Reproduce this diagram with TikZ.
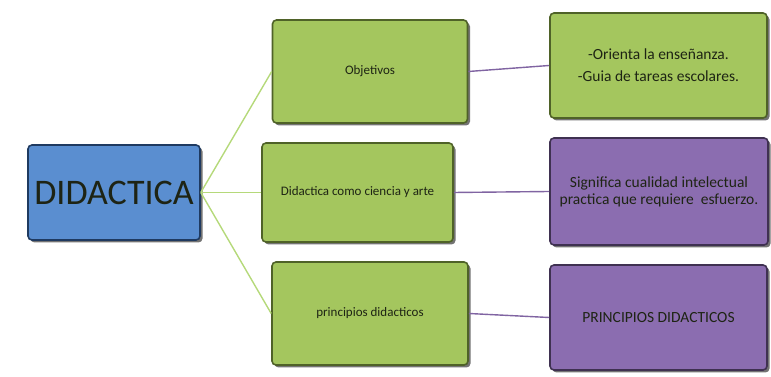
\documentclass[tikz,border=0pt]{standalone}
\usepackage{fontspec}
\setmainfont{Carlito}
\usetikzlibrary{shadows}
\definecolor{gfill}{HTML}{A4C65E}
\definecolor{gedge}{HTML}{4F6228}
\definecolor{pfill}{HTML}{8B6DB0}
\definecolor{pedge}{HTML}{3F3151}
\definecolor{bfill}{HTML}{5A8ED0}
\definecolor{bedge}{HTML}{1F3A60}
\definecolor{gline}{HTML}{B5D97A}
\definecolor{pline}{HTML}{8064A2}
\definecolor{txt}{HTML}{1E2414}
\tikzset{
  x=1pt,y=1pt,
  boxbase/.style={rectangle, rounded corners=4pt, line width=1.6pt, align=center, text=txt,
     drop shadow={shadow xshift=2.5pt, shadow yshift=-2.5pt, opacity=0.55, fill=black}},
  greenbox/.style={boxbase, fill=gfill, draw=gedge, font=\fontsize{13}{15}\selectfont},
  purplebox/.style={boxbase, fill=pfill, draw=pedge, font=\fontsize{15.5}{17}\selectfont},
  bluebox/.style={boxbase, fill=bfill, draw=bedge, font=\fontsize{36}{38}\selectfont},
  gconn/.style={draw=gline, line width=1.4pt},
  pconn/.style={draw=pline, line width=1.4pt},
}
\begin{document}
\begin{tikzpicture}
\useasboundingbox (0,0) rectangle (771,377);
\node[bluebox, minimum width=172, minimum height=95] (did) at (114,184.5) {DIDACTICA};
\node[greenbox, minimum width=195, minimum height=103] (obj) at (370,305.5) {Objetivos};
\node[greenbox, minimum width=191, minimum height=99] (cien) at (357.5,184.5) {Didactica como ciencia y arte};
\node[greenbox, minimum width=196, minimum height=103] (prin) at (370,63.5) {principios didacticos};
\node[greenbox, font=\fontsize{15.5}{22}\selectfont, minimum width=217, minimum height=105] (ori) at (658.5,311.5) {-Orienta la enseñanza.\\-Guia de tareas escolares.};
\node[purplebox, minimum width=218, minimum height=107] (sig) at (659,185.5) {Significa cualidad intelectual\\practica que requiere \ esfuerzo.};
\node[purplebox, minimum width=217, minimum height=105] (pd) at (658.5,59.5) {PRINCIPIOS DIDACTICOS};
\draw[gconn] (did.east) -- (obj.west);
\draw[gconn] (did.east) -- (cien.west);
\draw[gconn] (did.east) -- (prin.west);
\draw[pconn] (obj.east) -- (ori.west);
\draw[pconn] (cien.east) -- (sig.west);
\draw[pconn] (prin.east) -- (pd.west);
\end{tikzpicture}
\end{document}
